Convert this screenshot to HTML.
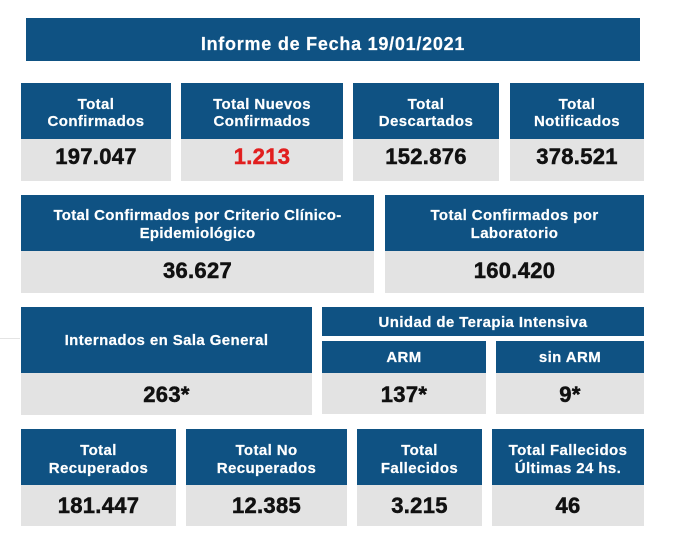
<!DOCTYPE html>
<html>
<head>
<meta charset="utf-8">
<style>
  html,body{margin:0;padding:0;background:#fff;}
  body{width:689px;height:541px;position:relative;overflow:hidden;font-family:"Liberation Sans",Arial,sans-serif;}
  .b{position:absolute;background:#0f5283;}
  .g{position:absolute;background:#e3e3e3;}
  .t{position:absolute;left:0;right:0;text-align:center;color:#fff;font-weight:bold;font-size:15px;line-height:17.5px;letter-spacing:0.4px;white-space:nowrap;-webkit-text-stroke:0.2px #fff;}
  .n{position:absolute;left:0;right:0;text-align:center;color:#111;font-weight:bold;font-size:22px;line-height:22px;letter-spacing:0.3px;-webkit-text-stroke:0.5px #111;white-space:nowrap;}
  .red{color:#e11f1f;-webkit-text-stroke:0.5px #e11f1f;}
</style>
</head>
<body>
<!-- Title -->
<div class="b" style="left:26px;top:18px;width:614px;height:43px;">
  <div class="t" style="top:17px;font-size:18px;line-height:18px;letter-spacing:0.75px;">Informe de Fecha 19/01/2021</div>
</div>

<!-- Row 1 -->
<div class="b" style="left:21px;top:83px;width:150px;height:56px;"><div class="t" style="top:12.8px;">Total<br>Confirmados</div></div>
<div class="g" style="left:21px;top:139px;width:150px;height:42px;"><div class="n" style="top:7.3px;">197.047</div></div>

<div class="b" style="left:181px;top:83px;width:162px;height:56px;"><div class="t" style="top:12.8px;">Total Nuevos<br>Confirmados</div></div>
<div class="g" style="left:181px;top:139px;width:162px;height:42px;"><div class="n red" style="top:7.3px;">1.213</div></div>

<div class="b" style="left:353px;top:83px;width:146px;height:56px;"><div class="t" style="top:12.8px;">Total<br>Descartados</div></div>
<div class="g" style="left:353px;top:139px;width:146px;height:42px;"><div class="n" style="top:7.3px;">152.876</div></div>

<div class="b" style="left:510px;top:83px;width:134px;height:56px;"><div class="t" style="top:12.8px;">Total<br>Notificados</div></div>
<div class="g" style="left:510px;top:139px;width:134px;height:42px;"><div class="n" style="top:7.3px;">378.521</div></div>

<!-- Row 2 -->
<div class="b" style="left:21px;top:195px;width:353px;height:56px;"><div class="t" style="top:12.2px;letter-spacing:0.3px;">Total Confirmados por Criterio Clínico-<br>Epidemiológico</div></div>
<div class="g" style="left:21px;top:251px;width:353px;height:42px;"><div class="n" style="top:9.3px;">36.627</div></div>

<div class="b" style="left:385px;top:195px;width:259px;height:56px;"><div class="t" style="top:12.2px;">Total Confirmados por<br>Laboratorio</div></div>
<div class="g" style="left:385px;top:251px;width:259px;height:42px;"><div class="n" style="top:9.3px;">160.420</div></div>

<!-- Row 3 -->
<div style="position:absolute;left:0;top:338px;width:20px;height:1px;background:#e4e4e4;"></div>
<div class="b" style="left:21px;top:307px;width:291px;height:66px;"><div class="t" style="top:24.6px;">Internados en Sala General</div></div>
<div class="g" style="left:21px;top:373px;width:291px;height:42px;"><div class="n" style="top:10.8px;">263*</div></div>

<div class="b" style="left:322px;top:307px;width:322px;height:29px;"><div class="t" style="top:7.2px;">Unidad de Terapia Intensiva</div></div>

<div class="b" style="left:322px;top:341px;width:164px;height:32px;"><div class="t" style="top:8.2px;">ARM</div></div>
<div class="g" style="left:322px;top:373px;width:164px;height:41px;"><div class="n" style="top:10.8px;">137*</div></div>

<div class="b" style="left:496px;top:341px;width:148px;height:32px;"><div class="t" style="top:8.2px;">sin ARM</div></div>
<div class="g" style="left:496px;top:373px;width:148px;height:41px;"><div class="n" style="top:10.8px;">9*</div></div>

<!-- Row 4 -->
<div class="b" style="left:21px;top:429px;width:155px;height:56px;"><div class="t" style="top:13px;">Total<br>Recuperados</div></div>
<div class="g" style="left:21px;top:485px;width:155px;height:41px;"><div class="n" style="top:9.6px;">181.447</div></div>

<div class="b" style="left:186px;top:429px;width:161px;height:56px;"><div class="t" style="top:13px;">Total No<br>Recuperados</div></div>
<div class="g" style="left:186px;top:485px;width:161px;height:41px;"><div class="n" style="top:9.6px;">12.385</div></div>

<div class="b" style="left:357px;top:429px;width:125px;height:56px;"><div class="t" style="top:13px;">Total<br>Fallecidos</div></div>
<div class="g" style="left:357px;top:485px;width:125px;height:41px;"><div class="n" style="top:9.6px;">3.215</div></div>

<div class="b" style="left:492px;top:429px;width:152px;height:56px;"><div class="t" style="top:13px;">Total Fallecidos<br>Últimas 24 hs.</div></div>
<div class="g" style="left:492px;top:485px;width:152px;height:41px;"><div class="n" style="top:9.6px;">46</div></div>
</body>
</html>
